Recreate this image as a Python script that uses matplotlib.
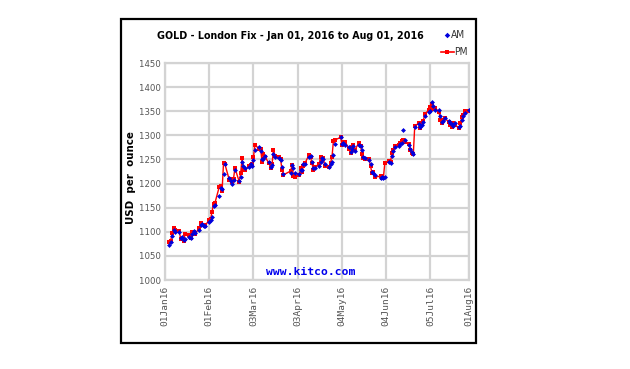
import matplotlib
matplotlib.use("Agg")
import matplotlib.pyplot as plt
from matplotlib.patches import Rectangle
from matplotlib.lines import Line2D
import pandas as pd

# ---------------- data ----------------
holidays = ["2016-03-25", "2016-03-28", "2016-05-02", "2016-05-30"]
dates = pd.bdate_range("2016-01-04", "2016-08-01", freq="C", holidays=holidays)

am_jan = [1073, 1078, 1092, 1103, 1100, 1100, 1087, 1090, 1083, 1084,
          1090, 1087, 1095, 1101, 1097, 1104, 1115, 1117, 1112, 1112]
pm_jan = [1078, 1081, 1098, 1107, 1104, 1101, 1085, 1085, 1081, 1095,
          1093, 1087, 1100, 1099, 1096, 1107, 1118, 1114, 1115, 1113]
am_feb = [1120, 1125, 1131, 1153, 1156, 1175, 1190, 1188, 1220, 1240,
          1212, 1205, 1200, 1207, 1228, 1206, 1213, 1245, 1237, 1232, 1235]
pm_feb = [1124, 1127, 1142, 1158, 1160, 1193, 1195, 1185, 1243, 1240,
          1208, 1210, 1203, 1210, 1232, 1204, 1221, 1252, 1230, 1228, 1236]
am_mar = [1240, 1236, 1249, 1270, 1276, 1268, 1250, 1250, 1258, 1245,
          1234, 1238, 1262, 1256, 1252, 1248, 1235, 1220, 1222, 1238, 1232]
pm_mar = [1238, 1240, 1255, 1280, 1272, 1272, 1245, 1262, 1255, 1242,
          1232, 1240, 1270, 1258, 1255, 1250, 1228, 1218, 1226, 1238, 1216]
am_apr = [1222, 1220, 1228, 1228, 1240, 1240, 1255, 1258, 1245, 1232,
          1232, 1236, 1245, 1252, 1250, 1240, 1235, 1240, 1245, 1260, 1283]
pm_apr = [1214, 1218, 1232, 1225, 1237, 1242, 1260, 1255, 1242, 1228,
          1235, 1240, 1256, 1248, 1252, 1236, 1234, 1243, 1255, 1288, 1290]
am_may = [1297, 1282, 1285, 1280, 1276, 1265, 1272, 1278, 1268, 1280,
          1277, 1270, 1255, 1252, 1248, 1240, 1225, 1222, 1217, 1212]
pm_may = [1296, 1280, 1287, 1287, 1272, 1263, 1276, 1280, 1270, 1285,
          1278, 1262, 1252, 1250, 1250, 1236, 1222, 1224, 1214, 1215]
am_jun = [1213, 1211, 1214, 1245, 1242, 1258, 1268, 1275, 1278, 1283,
          1284, 1311, 1290, 1280, 1272, 1265, 1262, 1318, 1324, 1318, 1322, 1328]
pm_jun = [1212, 1212, 1242, 1246, 1244, 1263, 1270, 1277, 1280, 1285,
          1288, 1290, 1287, 1283, 1270, 1263, 1262, 1320, 1325, 1316, 1325, 1330]
am_jul = [1340, 1348, 1350, 1370, 1360, 1352, 1352, 1340, 1328, 1330,
          1336, 1330, 1325, 1323, 1320, 1325, 1318, 1320, 1332, 1340, 1346, 1352]
pm_jul = [1345, 1352, 1358, 1366, 1355, 1357, 1349, 1332, 1325, 1332,
          1335, 1328, 1322, 1318, 1325, 1322, 1315, 1325, 1339, 1342, 1350, 1350]

am = am_jan + am_feb + am_mar + am_apr + am_may + am_jun + am_jul
pm = pm_jan + pm_feb + pm_mar + pm_apr + pm_may + pm_jun + pm_jul
n = min(len(dates), len(am), len(pm))
dates = dates[:n]; am = am[:n]; pm = pm[:n]

tick_dates = ["2016-01-01", "2016-02-01", "2016-03-03", "2016-04-03",
              "2016-05-04", "2016-06-04", "2016-07-05", "2016-08-01"]
tick_labels = ["01Jan16", "01Feb16", "03Mar16", "03Apr16",
               "04May16", "04Jun16", "05Jul16", "01Aug16"]
y_ticks = [1000, 1050, 1100, 1150, 1200, 1250, 1300, 1350, 1400, 1450]

# ---------------- figure ----------------
W, H = 630, 369
fig = plt.figure(figsize=(W / 100, H / 100), dpi=100)
fig.patch.set_facecolor("white")

def fx(px): return px / W
def fy(py): return 1 - py / H

# outer frame
fig.patches.append(Rectangle((fx(121), fy(343)), (476 - 121) / W, (343 - 19) / H,
                             transform=fig.transFigure, fill=False,
                             edgecolor="black", linewidth=1.6))

ax = fig.add_axes([fx(165), fy(280), (469 - 165) / W, (280 - 63) / H])
tdates = pd.to_datetime(tick_dates)
ax.set_xlim(tdates[0], tdates[-1])
ax.set_ylim(y_ticks[0], y_ticks[-1])

grid_c = "#d3d3d3"
for s in ax.spines.values():
    s.set_color(grid_c)
    s.set_linewidth(1.6)
ax.set_axisbelow(True)
ax.grid(True, color=grid_c, linewidth=1.6)

ax.plot(dates, pm, color="#ff0000", linewidth=1.0, marker="s", markersize=2.8,
        markeredgewidth=0, zorder=3)
ax.plot(dates, am, linestyle="none", color="#0000dd", marker="D", markersize=2.5,
        markeredgewidth=0, zorder=4)

ax.set_xticks(tdates)
ax.set_xticklabels(tick_labels, rotation=90, family="DejaVu Sans Mono",
                   fontsize=6.8, color="#555555")
ax.set_yticks(y_ticks)
ax.set_yticklabels([str(v) for v in y_ticks], family="DejaVu Sans",
                   fontstretch="condensed", fontsize=6.8, color="#555555")
ax.tick_params(axis="both", length=0, pad=3)
ax.tick_params(axis="x", pad=4)

# title
fig.text(fx(290.5), fy(36), "GOLD - London Fix - Jan 01, 2016 to Aug 01, 2016",
         ha="center", va="center", fontsize=7.7, fontweight="bold",
         family="DejaVu Sans", fontstretch="condensed", color="black")

# y label
fig.text(fx(130.5), fy(178), "USD  per  ounce", rotation=90, ha="center", va="center",
         fontsize=7.4, fontweight="bold", family="DejaVu Sans", color="black")

# watermark
ax.text(0.478, 0.035, "www.kitco.com", transform=ax.transAxes, ha="center",
        va="center", fontsize=8.2, fontweight="bold", family="DejaVu Sans Mono",
        color="#0000ee")

# legend
fig.lines.append(Line2D([fx(447)], [fy(35)], transform=fig.transFigure,
                        marker="D", markersize=2.8, color="#0000dd",
                        markeredgewidth=0, linestyle="none"))
fig.text(fx(451), fy(35), "AM", ha="left", va="center", fontsize=7.4,
         family="DejaVu Sans", fontstretch="condensed", color="#333333")
fig.lines.append(Line2D([fx(441), fx(454)], [fy(52), fy(52)], transform=fig.transFigure,
                        color="#ff0000", linewidth=1.2))
fig.lines.append(Line2D([fx(447)], [fy(52)], transform=fig.transFigure,
                        marker="s", markersize=3.2, color="#ff0000",
                        markeredgewidth=0, linestyle="none"))
fig.text(fx(454), fy(52), "PM", ha="left", va="center", fontsize=7.4,
         family="DejaVu Sans", fontstretch="condensed", color="#333333")

fig.savefig("out.png", dpi=100, facecolor="white")
